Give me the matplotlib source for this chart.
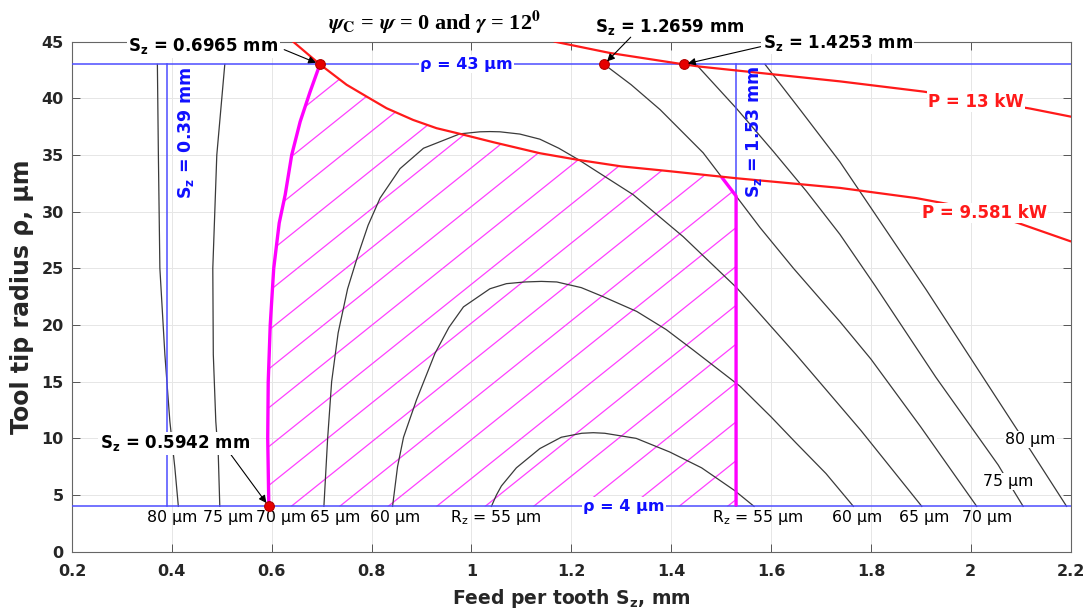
import numpy as np
import matplotlib
matplotlib.use("Agg")
import matplotlib.pyplot as plt
from matplotlib.patches import Polygon

plt.rcParams['font.family'] = ['DejaVu Sans']
plt.rcParams['mathtext.fontset'] = 'dejavusans'

# ---------------- data ----------------
# Rz contour lines (Sz in mm, rho in um)
rz80_left_sz = [0.371, 0.373, 0.376, 0.386, 0.396, 0.406, 0.413]
rz80_left_rho = [43, 35, 25, 17.4, 11.5, 7.4, 4]
rz75_left_sz = [0.506, 0.490, 0.482, 0.483, 0.488, 0.493, 0.496]
rz75_left_rho = [43, 35, 25, 17.4, 11.5, 8.5, 4]
rz70_left_sz = [0.5942, 0.592, 0.593, 0.597, 0.604, 0.615, 0.627, 0.640, 0.657, 0.677, 0.6965]
rz70_left_rho = [4, 10, 15, 20, 25, 29, 31.5, 35, 37.95, 40.6, 43]
rz65_sz = [0.7045, 0.712, 0.720, 0.733, 0.752, 0.773, 0.793, 0.817, 0.857, 0.904, 0.977,
           1.017, 1.037, 1.057, 1.097, 1.137, 1.175, 1.214, 1.324, 1.424, 1.531, 1.65,
           1.78, 1.902]
rz65_rho = [4, 10, 15, 19.3, 23.2, 26.2, 28.8, 31.2, 33.8, 35.6, 36.87,
            37.05, 37.07, 37.05, 36.85, 36.4, 35.6, 34.6, 31.5, 27.8, 23.3, 17.4,
            10.7, 4]
rz60_sz = [0.842, 0.852, 0.864, 0.890, 0.927, 0.955, 0.984, 1.037, 1.07, 1.107, 1.14,
           1.171, 1.22, 1.264, 1.331, 1.39, 1.444, 1.538, 1.60, 1.65, 1.71, 1.765]
rz60_rho = [4, 7.5, 10.1, 13.4, 17.5, 19.8, 21.6, 23.2, 23.65, 23.8, 23.85,
            23.8, 23.3, 22.5, 21.2, 19.6, 17.8, 14.6, 11.9, 9.6, 6.9, 4]
rz55_sz = [1.040, 1.05, 1.06, 1.09, 1.137, 1.18, 1.221, 1.244, 1.267, 1.33, 1.397,
           1.461, 1.527, 1.566]
rz55_rho = [4, 5.0, 5.8, 7.4, 9.1, 10.1, 10.45, 10.5, 10.45, 10.0, 8.8, 7.4, 5.4, 4]
rz70_right_sz = [1.2659, 1.32, 1.378, 1.464, 1.528, 1.578, 1.645, 1.738, 1.80, 1.90, 2.012]
rz70_right_rho = [43, 41.2, 39.0, 35.2, 31.5, 28.6, 25.0, 20.3, 17.0, 11.0, 4]
rz75_right_sz = [1.45, 1.531, 1.605, 1.671, 1.738, 1.808, 1.93, 2.055, 2.089, 2.105]
rz75_right_rho = [43, 39.1, 35.3, 31.8, 28.0, 23.5, 15.4, 7.65, 5.15, 4]
rz80_right_sz = [1.588, 1.66, 1.738, 1.911, 2.085, 2.122, 2.192]
rz80_right_rho = [43, 38.9, 34.4, 23.1, 11.3, 8.8, 4]

# power constraint curves
p9581_sz = [0.643, 0.6965, 0.750, 0.790, 0.830, 0.883, 0.930, 0.977, 1.044, 1.137,
            1.214, 1.30, 1.391, 1.531, 1.738, 1.891, 2.0, 2.095, 2.199]
p9581_rho = [45, 43, 41.2, 40.16, 39.13, 38.1, 37.37, 36.87, 36.13, 35.16,
             34.57, 34.0, 33.6, 32.95, 32.1, 31.2, 30.3, 29.0, 27.4]
p13_sz = [1.167, 1.278, 1.4253, 1.458, 1.738, 1.905, 2.0, 2.119, 2.199]
p13_rho = [45, 44.0, 43, 42.8, 41.5, 40.6, 39.95, 39.1, 38.4]

# constraint values
rho_min, rho_max = 4, 43
sz_min, sz_max = 0.39, 1.53

# marked points
dots_sz = [0.6965, 1.2659, 1.4253, 0.5942]
dots_rho = [43, 43, 43, 4]

# contour labels
bottom_labels = ['80 µm', '75 µm', '70 µm', '65 µm', '60 µm', r'R$_\mathregular{z}$ = 55 µm',
                 r'R$_\mathregular{z}$ = 55 µm', '60 µm', '65 µm', '70 µm']
bottom_label_sz = [0.40, 0.512, 0.618, 0.727, 0.847, 1.048, 1.573, 1.773, 1.906, 2.032]

xticks = [0.2, 0.4, 0.6, 0.8, 1.0, 1.2, 1.4, 1.6, 1.8, 2.0, 2.2]
xticklabels = ['0.2', '0.4', '0.6', '0.8', '1', '1.2', '1.4', '1.6', '1.8', '2', '2.2']
yticks = [0, 5, 10, 15, 20, 25, 30, 35, 40, 45]

# ---------------- figure ----------------
fig = plt.figure(figsize=(10.89, 6.15), dpi=100)
ax = fig.add_axes([72 / 1089, 1 - 551.7 / 615, 998.6 / 1089, 510 / 615])
ax.set_xlim(0.2, 2.2)
ax.set_ylim(0, 45)

txtc = '#262626'
ax.set_xticks(xticks)
ax.set_xticklabels(xticklabels)
ax.set_yticks(yticks)
ax.tick_params(direction='in', length=5.5, width=0.7, color='#555555',
               top=True, right=True, labelsize=11.5, labelcolor=txtc)
ax.tick_params(axis='x', pad=9)
ax.tick_params(axis='y', pad=6)
for lab in ax.get_xticklabels() + ax.get_yticklabels():
    lab.set_fontweight('bold')
for s in ax.spines.values():
    s.set_color('#666666')
    s.set_linewidth(0.8)
ax.grid(True, color='#e6e6e6', linewidth=0.7, zorder=0)
ax.set_axisbelow(True)

ax.set_xlabel(r'Feed per tooth S$_\mathbf{z}$, mm', fontsize=13.5, fontweight='bold', color=txtc)
ax.set_ylabel('Tool tip radius ρ, µm', fontsize=17, fontweight='bold', color=txtc)
ax.xaxis.set_label_coords(0.5, -0.091)
ax.xaxis.label.set_va('center')
ax.yaxis.set_label_coords(-0.0504, 0.5)
ax.yaxis.label.set_va('center')

# ---------------- feasible region (hatched) ----------------
f70r = lambda s: np.interp(s, rz70_right_sz, rz70_right_rho)
fp = lambda s: np.interp(s, p9581_sz, p9581_rho)
grid_s = np.linspace(1.3, sz_max, 3000)
d = fp(grid_s) - f70r(grid_s)
i = np.where(np.diff(np.sign(d)) != 0)[0][0]
s_int = grid_s[i]
r_int = float(fp(s_int))

verts = list(zip(rz70_left_sz, rz70_left_rho))
verts += [(s, r) for s, r in zip(p9581_sz, p9581_rho) if rz70_left_sz[-1] < s < s_int]
verts += [(s_int, r_int)]
verts += [(s, r) for s, r in zip(rz70_right_sz, rz70_right_rho) if s_int < s < sz_max]
r_at_max = float(f70r(sz_max))
verts += [(sz_max, r_at_max), (sz_max, rho_min)]
region = Polygon(verts, closed=True, facecolor='none', edgecolor='none')
ax.add_patch(region)

hatch_slope = 35.3      # rho per mm
hatch_dx = 0.0971
hatch_x0 = 0.639
for k in range(-20, 30):
    x0 = hatch_x0 + k * hatch_dx
    ln, = ax.plot([x0, x0 + 41 / hatch_slope], [rho_min, 45], color='#ff40ff', lw=0.9, zorder=1.5)
    ln.set_clip_path(region)

# ---------------- contour lines ----------------
cc = '#3a3a3a'
for sx, ry in [(rz80_left_sz, rz80_left_rho), (rz75_left_sz, rz75_left_rho),
               (rz70_left_sz, rz70_left_rho), (rz65_sz, rz65_rho), (rz60_sz, rz60_rho),
               (rz55_sz, rz55_rho), (rz70_right_sz, rz70_right_rho),
               (rz75_right_sz, rz75_right_rho), (rz80_right_sz, rz80_right_rho)]:
    ax.plot(sx, ry, color=cc, lw=0.9, zorder=2, solid_joinstyle='round')

# ---------------- constraint lines ----------------
bc = '#4d4dff'
ax.axhline(rho_max, color=bc, lw=1.1, zorder=3)
ax.axhline(rho_min, color=bc, lw=1.1, zorder=3)
ax.plot([sz_min, sz_min], [rho_min, rho_max], color=bc, lw=1.1, zorder=3)
ax.plot([sz_max, sz_max], [rho_min, rho_max], color=bc, lw=1.1, zorder=3)

# magenta boundary
mc = '#ff00ff'
ax.plot(rz70_left_sz, rz70_left_rho, color=mc, lw=2.4, zorder=4, solid_capstyle='butt',
        solid_joinstyle='round')
seg_s = [s_int] + [s for s in rz70_right_sz if s_int < s < sz_max] + [sz_max, sz_max]
seg_r = [r_int] + [r for s, r in zip(rz70_right_sz, rz70_right_rho) if s_int < s < sz_max] + [r_at_max, rho_min]
ax.plot(seg_s, seg_r, color=mc, lw=2.4, zorder=4, solid_capstyle='butt')

# power curves
rc = '#ff1a1a'
ax.plot(p9581_sz, p9581_rho, color=rc, lw=1.6, zorder=5, solid_joinstyle='round')
ax.plot(p13_sz, p13_rho, color=rc, lw=1.6, zorder=5, solid_joinstyle='round')

ax.plot(dots_sz, dots_rho, 'o', ms=7, mfc='#e60000', mec='#b00000', mew=0.8, zorder=7, clip_on=False)

# ---------------- texts ----------------
wb = dict(facecolor='white', edgecolor='none', pad=1.0)
blue_t = '#1010ff'
ax.text(0.99, rho_max, 'ρ = 43 µm', color=blue_t, fontsize=11.5, fontweight='bold',
        ha='center', va='center', bbox=wb, zorder=6)
ax.text(1.306, rho_min, 'ρ = 4 µm', color=blue_t, fontsize=11.5, fontweight='bold',
        ha='center', va='center', bbox=wb, zorder=6)
ax.text(0.428, 36.95, r'S$_\mathbf{z}$ = 0.39 mm', color=blue_t, fontsize=12.5, fontweight='bold',
        rotation=90, ha='center', va='center', zorder=6)
ax.text(1.566, 37.1, r'S$_\mathbf{z}$ = 1.53 mm', color=blue_t, fontsize=12.5, fontweight='bold',
        rotation=90, ha='center', va='center', zorder=6)

ax.text(2.01, 39.7, 'P = 13 kW', color=rc, fontsize=12, fontweight='bold',
        ha='center', va='center', bbox=wb, zorder=6)
ax.text(2.027, 29.9, 'P = 9.581 kW', color=rc, fontsize=12, fontweight='bold',
        ha='center', va='center', bbox=wb, zorder=6)

for lab, s in zip(bottom_labels, bottom_label_sz):
    ax.text(s, 3.0, lab, fontsize=11.3, color='black', ha='center', va='center', zorder=6)
ax.text(2.075, 6.2, '75 µm', fontsize=11.3, color='black', ha='center', va='center', bbox=wb, zorder=6)
ax.text(2.12, 9.9, '80 µm', fontsize=11.3, color='black', ha='center', va='center', bbox=wb, zorder=6)

# annotations
ann = [(r'S$_\mathbf{z}$ = 0.6965 mm', (0.463, 44.6), (0.625, 44.3), 0, True),
       (r'S$_\mathbf{z}$ = 1.2659 mm', (1.398, 46.3), (1.319, 45.4), 1, False),
       (r'S$_\mathbf{z}$ = 1.4253 mm', (1.734, 44.9), (1.583, 44.6), 2, True),
       (r'S$_\mathbf{z}$ = 0.5942 mm', (0.4055, 9.57), (0.516, 8.7), 3, True)]
for text, tpos, apos, di, bg in ann:
    ax.text(tpos[0], tpos[1], text, fontsize=12, fontweight='bold', color='black',
            ha='center', va='center', bbox=wb if bg else None, zorder=10, clip_on=False)
    ax.annotate('', xy=(dots_sz[di], dots_rho[di]), xytext=apos,
                arrowprops=dict(arrowstyle='-|>', color='black', lw=0.8,
                                mutation_scale=11, shrinkA=0, shrinkB=3),
                zorder=9, annotation_clip=False)

ax.text(0.925, 46.7,
        r'$\boldsymbol{\psi}_\mathbf{C}$ = $\boldsymbol{\psi}$ = 0 and $\boldsymbol{\gamma}$ = 12$^\mathbf{0}$',
        fontsize=16, fontweight='bold', family='Liberation Serif', math_fontfamily='stix',
        ha='center', va='center', clip_on=False, zorder=10)

fig.savefig('out.png', dpi=100)
